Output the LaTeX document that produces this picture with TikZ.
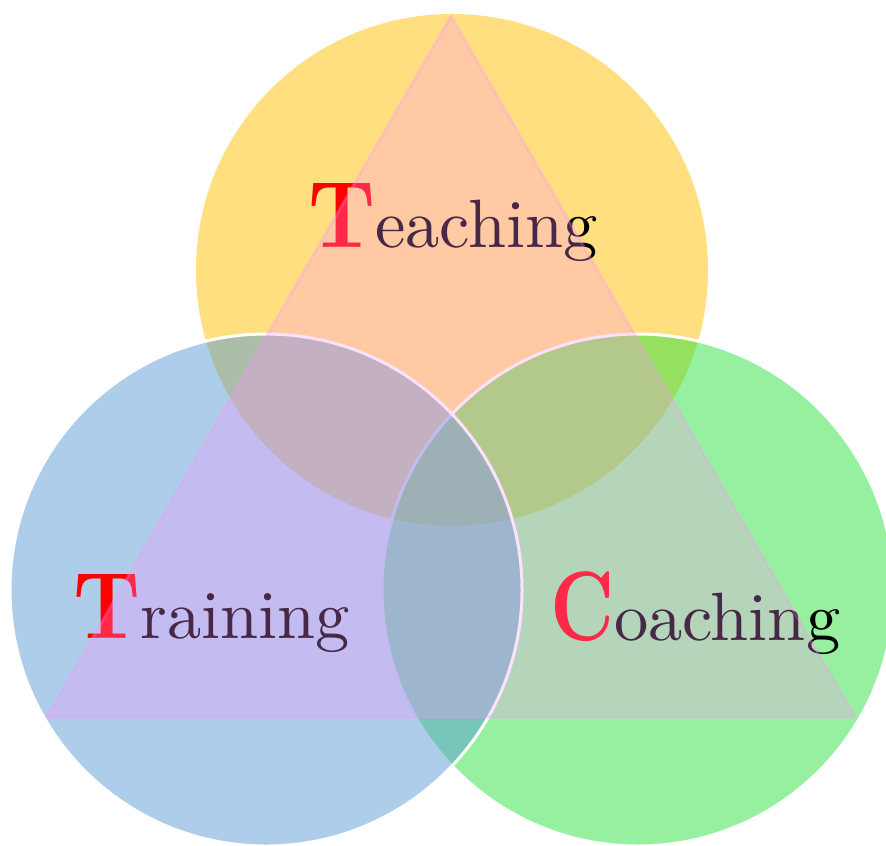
\documentclass[tikz,border=0pt]{standalone}
\usepackage{graphicx}
\definecolor{cyel}{RGB}{255,192,0}
\definecolor{cblu}{RGB}{91,155,213}
\definecolor{cgrn}{RGB}{47,225,63}
\definecolor{ctri}{RGB}{255,145,255}
\newcommand{\bigcapT}{\textcolor{red}{\scalebox{4.2}[4.74]{\bfseries T}}}
\newcommand{\bigcapC}{\textcolor{red}{\scalebox{3.85}[4.94]{\bfseries C}}}
\newcommand{\restword}[1]{\scalebox{3.42}{#1}}
\begin{document}
\begin{tikzpicture}[x=0.5pt,y=-0.5pt,
  circ/.style={circle, inner sep=0pt, outer sep=0pt, minimum size=256pt, fill opacity=0.5},
  outl/.style={draw=white, draw opacity=1, line width=1.5pt},
  word/.style={anchor=base west, inner sep=0pt, outer sep=0pt},
  tri/.style={fill=ctri, draw=ctri, opacity=0.28, line width=1.5pt, line join=miter}]
\useasboundingbox (0,0) rectangle (886,845);
\node[circ, fill=cyel] (ctop) at (452,270) {};
\node[circ, outl, fill=cgrn] (cright) at (638,590) {};
\node[circ, outl, fill=cblu] (cleft) at (266,590) {};
\node[word] (teach) at (308,247) {\bigcapT\restword{eaching}};
\node[word] (train) at (73,638) {\bigcapT\restword{raining}};
\node[word] (coach) at (550,640) {\bigcapC\restword{oaching}};
\coordinate (apex) at (451,16);
\coordinate (bl) at (47,717);
\coordinate (br) at (855,717);
\draw[tri] (apex) -- (bl) -- (br) -- cycle;
\end{tikzpicture}
\end{document}
